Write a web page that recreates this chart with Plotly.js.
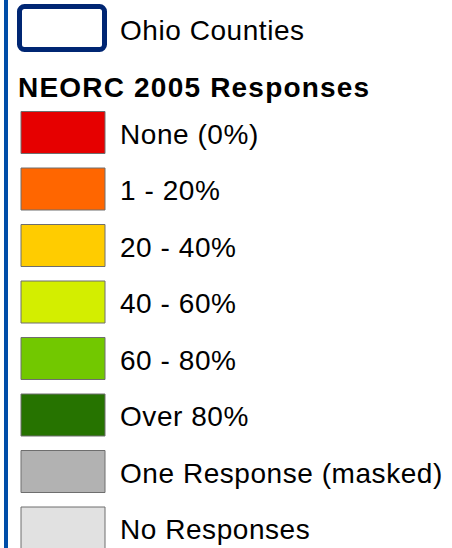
<!DOCTYPE html>
<html>
<head>
<meta charset="utf-8">
<script src="https://cdn.plot.ly/plotly-3.0.1.min.js"></script>
<style>
  html, body { margin: 0; padding: 0; background: #ffffff; }
  #chart { width: 452px; height: 548px; }
  #chart .annotation-text { letter-spacing: 0.55px; }
  #chart .annotation-text[data-unformatted*="NEORC"] { letter-spacing: 1.2px; }
</style>
</head>
<body>
<div id="chart"></div>
<script>
// ---- data ----
const layerLabel = "Ohio Counties";
const groupTitle = "NEORC 2005 Responses";
const classLabels = ["None (0%)", "1 - 20%", "20 - 40%", "40 - 60%", "60 - 80%", "Over 80%", "One Response (masked)", "No Responses"];
const classColors = ["#e60000", "#ff6600", "#ffcc00", "#d3ee00", "#72c800", "#267300", "#b2b2b2", "#e1e1e1"];

// ---- layout constants (pixel-like axis units) ----
const W = 452, H = 548;
const firstRow = 132.5, pitch = 56.5;
const swatchX = 21, swatchW = 84, swatchH = 42;
const labelX = 118;
const fontSize = 28;
const fontFam = "Liberation Sans, Arial, sans-serif";

const rowY = classLabels.map((_, i) => firstRow + i * pitch);

const swatches = {
  type: "bar", orientation: "h",
  y: rowY,
  x: classLabels.map(() => swatchW),
  base: swatchX,
  width: swatchH,
  marker: { color: classColors, line: { color: "#6e6e6e", width: 1 } },
  hoverinfo: "skip"
};

const layerBox = {
  type: "bar", orientation: "h",
  y: [28], x: [85], base: 19.5, width: 43,
  marker: { color: "#ffffff", line: { color: "#002673", width: 5 }, cornerradius: 5 },
  hoverinfo: "skip"
};

const annotations = [
  { x: labelX, y: 30, text: layerLabel, xanchor: "left", yanchor: "middle", align: "left", showarrow: false,
    font: { family: fontFam, size: fontSize, color: "#000" } },
  { x: 16, y: 87.5, text: "<b>" + groupTitle + "</b>", xanchor: "left", yanchor: "middle", align: "left", showarrow: false,
    font: { family: fontFam, size: 28, color: "#000" } }
].concat(classLabels.map((t, i) => ({
  x: labelX, y: rowY[i] + 1.5, text: t, xanchor: "left", yanchor: "middle", align: "left", showarrow: false,
  font: { family: fontFam, size: fontSize, color: "#000" }
})));

const layout = {
  width: W, height: H,
  margin: { l: 0, r: 0, t: 0, b: 0, pad: 0 },
  paper_bgcolor: "#ffffff", plot_bgcolor: "#ffffff",
  showlegend: false,
  barmode: "overlay",
  xaxis: { range: [0, W], visible: false, fixedrange: true },
  yaxis: { range: [H, 0], visible: false, fixedrange: true },
  shapes: [
    { type: "line", xref: "x", yref: "paper", x0: 6, x1: 6, y0: 0, y1: 1,
      line: { color: "#004da8", width: 4 } }
  ],
  annotations: annotations
};

Plotly.newPlot("chart", [layerBox, swatches], layout, { displayModeBar: false, staticPlot: true });
</script>
</body>
</html>
